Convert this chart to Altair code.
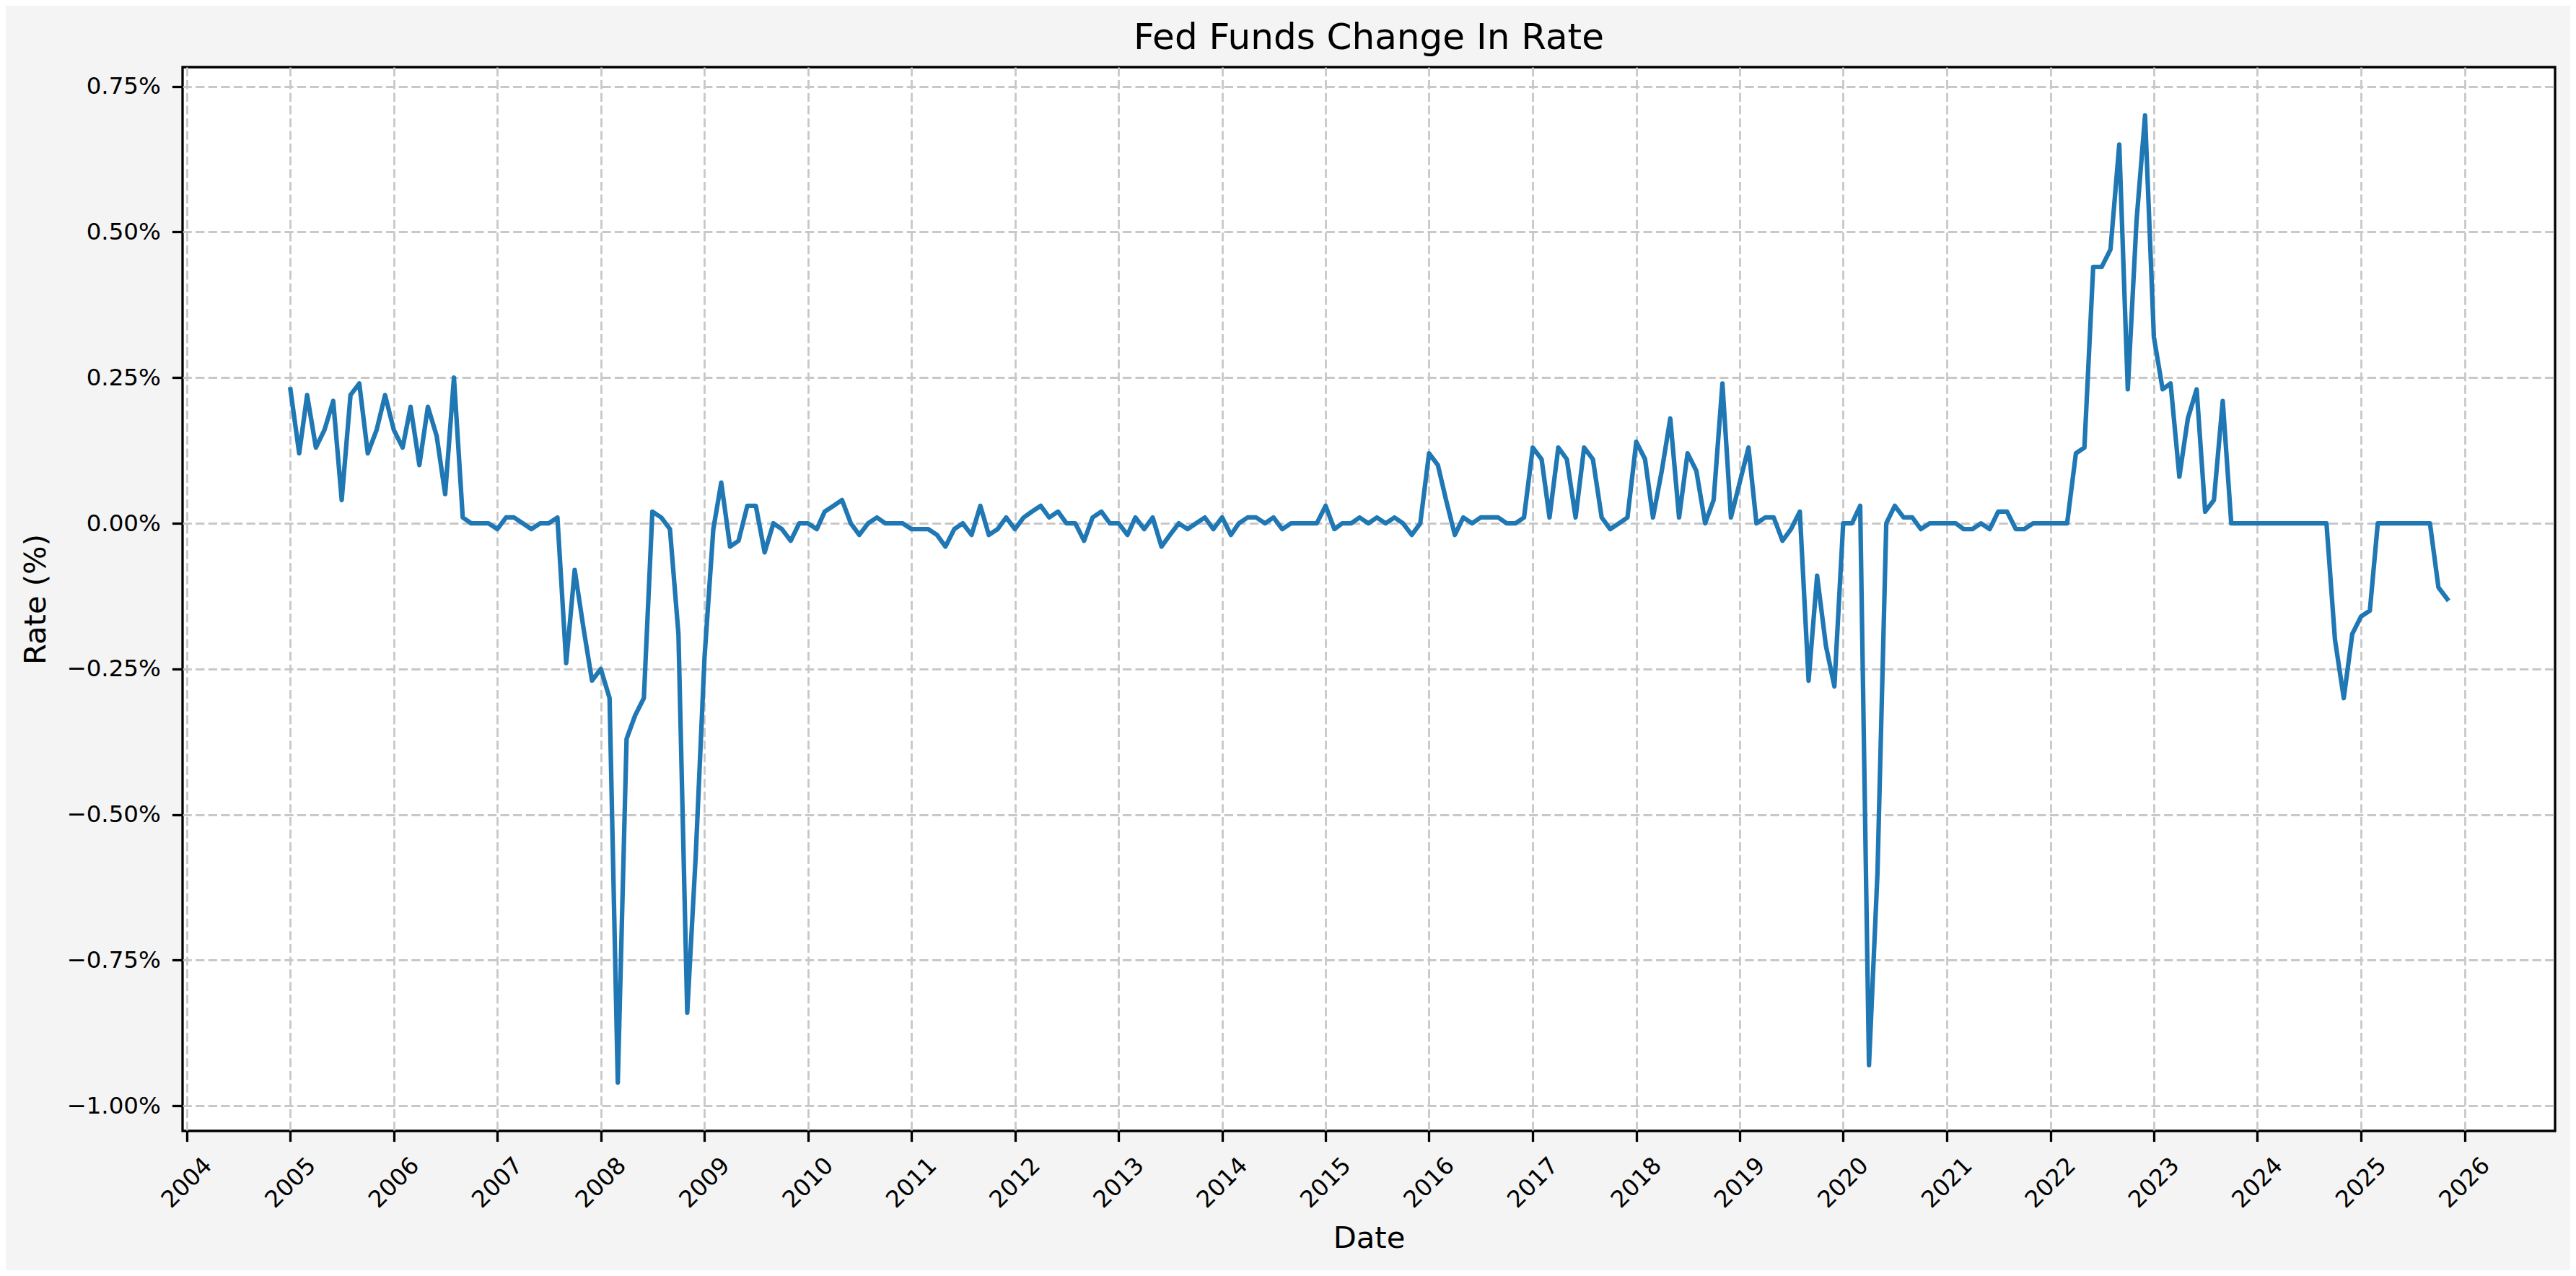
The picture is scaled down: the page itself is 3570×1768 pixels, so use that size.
import altair as alt
import pandas as pd

# Monthly change in the Fed Funds rate (percentage points)
rate_2005 = [0.23, 0.12, 0.22, 0.13, 0.16, 0.21, 0.04, 0.22, 0.24, 0.12, 0.16, 0.22]
rate_2006 = [0.16, 0.13, 0.20, 0.10, 0.20, 0.15, 0.05, 0.25, 0.01, 0.00, 0.00, 0.00]
rate_2007 = [-0.01, 0.01, 0.01, 0.00, -0.01, 0.00, 0.00, 0.01, -0.24, -0.08, -0.18, -0.27]
rate_2008 = [-0.25, -0.30, -0.96, -0.37, -0.33, -0.30, 0.02, 0.01, -0.01, -0.19, -0.84, -0.57]
rate_2009 = [-0.23, -0.01, 0.07, -0.04, -0.03, 0.03, 0.03, -0.05, 0.00, -0.01, -0.03, 0.00]
rate_2010 = [0.00, -0.01, 0.02, 0.03, 0.04, 0.00, -0.02, 0.00, 0.01, 0.00, 0.00, 0.00]
rate_2011 = [-0.01, -0.01, -0.01, -0.02, -0.04, -0.01, 0.00, -0.02, 0.03, -0.02, -0.01, 0.01]
rate_2012 = [-0.01, 0.01, 0.02, 0.03, 0.01, 0.02, 0.00, 0.00, -0.03, 0.01, 0.02, 0.00]
rate_2013 = [0.00, -0.02, 0.01, -0.01, 0.01, -0.04, -0.02, 0.00, -0.01, 0.00, 0.01, -0.01]
rate_2014 = [0.01, -0.02, 0.00, 0.01, 0.01, 0.00, 0.01, -0.01, 0.00, 0.00, 0.00, 0.00]
rate_2015 = [0.03, -0.01, 0.00, 0.00, 0.01, 0.00, 0.01, 0.00, 0.01, 0.00, -0.02, 0.00]
rate_2016 = [0.12, 0.10, 0.04, -0.02, 0.01, 0.00, 0.01, 0.01, 0.01, 0.00, 0.00, 0.01]
rate_2017 = [0.13, 0.11, 0.01, 0.13, 0.11, 0.01, 0.13, 0.11, 0.01, -0.01, 0.00, 0.01]
rate_2018 = [0.14, 0.11, 0.01, 0.09, 0.18, 0.01, 0.12, 0.09, 0.00, 0.04, 0.24, 0.01]
rate_2019 = [0.07, 0.13, 0.00, 0.01, 0.01, -0.03, -0.01, 0.02, -0.27, -0.09, -0.21, -0.28]
rate_2020 = [0.00, 0.00, 0.03, -0.93, -0.60, 0.00, 0.03, 0.01, 0.01, -0.01, 0.00, 0.00]
rate_2021 = [0.00, 0.00, -0.01, -0.01, 0.00, -0.01, 0.02, 0.02, -0.01, -0.01, 0.00, 0.00]
rate_2022 = [0.00, 0.00, 0.00, 0.12, 0.13, 0.44, 0.44, 0.47, 0.65, 0.23, 0.52, 0.70]
rate_2023 = [0.32, 0.23, 0.24, 0.08, 0.18, 0.23, 0.02, 0.04, 0.21, 0.00, 0.00, 0.00]
rate_2024 = [0.00, 0.00, 0.00, 0.00, 0.00, 0.00, 0.00, 0.00, 0.00, -0.20, -0.30, -0.19]
rate_2025 = [-0.16, -0.15, 0.00, 0.00, 0.00, 0.00, 0.00, 0.00, 0.00, -0.11, -0.13]

tick_years = list(range(2004, 2027))
y_ticks = [-1.0, -0.75, -0.5, -0.25, 0.0, 0.25, 0.5, 0.75]

rates = (rate_2005 + rate_2006 + rate_2007 + rate_2008 + rate_2009 + rate_2010 +
         rate_2011 + rate_2012 + rate_2013 + rate_2014 + rate_2015 + rate_2016 +
         rate_2017 + rate_2018 + rate_2019 + rate_2020 + rate_2021 + rate_2022 +
         rate_2023 + rate_2024 + rate_2025)
dates = pd.date_range("2005-01-01", periods=len(rates), freq="MS")
df = pd.DataFrame({"Date": dates.strftime("%Y-%m-%d"), "Rate": rates})

# matplotlib-like 5% margins
t0, t1 = dates[0], dates[-1]
span = t1 - t0
x_lo = int((t0 - 0.05 * span).value // 10**6)
x_hi = int((t1 + 0.05 * span).value // 10**6)
ymin, ymax = min(rates), max(rates)
yr = ymax - ymin
y_dom = [ymin - 0.05 * yr, ymax + 0.05 * yr]
x_tick_vals = [int(pd.Timestamp(f"{y}-01-01").value // 10**6) for y in tick_years]

W, H = 3288, 1474
FONT = "DejaVu Sans"

chart = alt.Chart(df).mark_line(
    color="#1f77b4", strokeWidth=6.25, strokeJoin="round", strokeCap="square"
).encode(
    x=alt.X("Date:T",
            scale=alt.Scale(type="utc", domain=[x_lo, x_hi], nice=False),
            axis=alt.Axis(values=x_tick_vals,
                          labelExpr="utcFormat(datum.value, '%Y')",
                          labelAngle=315, labelAlign="center", labelBaseline="middle",
                          labelPadding=57, labelOverlap=False, labelFlush=False,
                          title="Date", titleBaseline="alphabetic",
                          titleX=W / 2, titleY=161, titleAlign="center")),
    y=alt.Y("Rate:Q",
            scale=alt.Scale(domain=y_dom, nice=False, zero=False),
            axis=alt.Axis(values=y_ticks,
                          labelExpr="format(datum.value, '.2f') + '%'",
                          labelPadding=16, labelOverlap=False, labelFlush=False,
                          title="Rate (%)", titleAngle=270, titleBaseline="alphabetic",
                          titleX=-191, titleY=H / 2, titleAlign="center")),
).properties(
    width=W, height=H,
    title=alt.TitleParams("Fed Funds Change In Rate", font=FONT, fontSize=50,
                          fontWeight="normal", color="black", anchor="middle",
                          baseline="alphabetic", offset=25, dy=50),
    autosize=alt.AutoSizeParams(type="none"),
    padding={"left": 245, "top": 85, "right": 21, "bottom": 193},
    background="#f4f4f4",
).configure_view(
    fill="white", stroke="black", strokeWidth=3.3
).configure_axis(
    labelFont=FONT, labelFontSize=32.5, labelColor="black",
    titleFont=FONT, titleFontSize=41.7, titleFontWeight="normal", titleColor="black",
    tickColor="black", tickSize=14.6, tickWidth=3.3,
    domain=False, grid=True, gridColor="#c8c8c8", gridDash=[12.3, 5.3], gridWidth=2.8,
)

chart.save("out.html", embed_options={"renderer": "svg", "actions": False})
